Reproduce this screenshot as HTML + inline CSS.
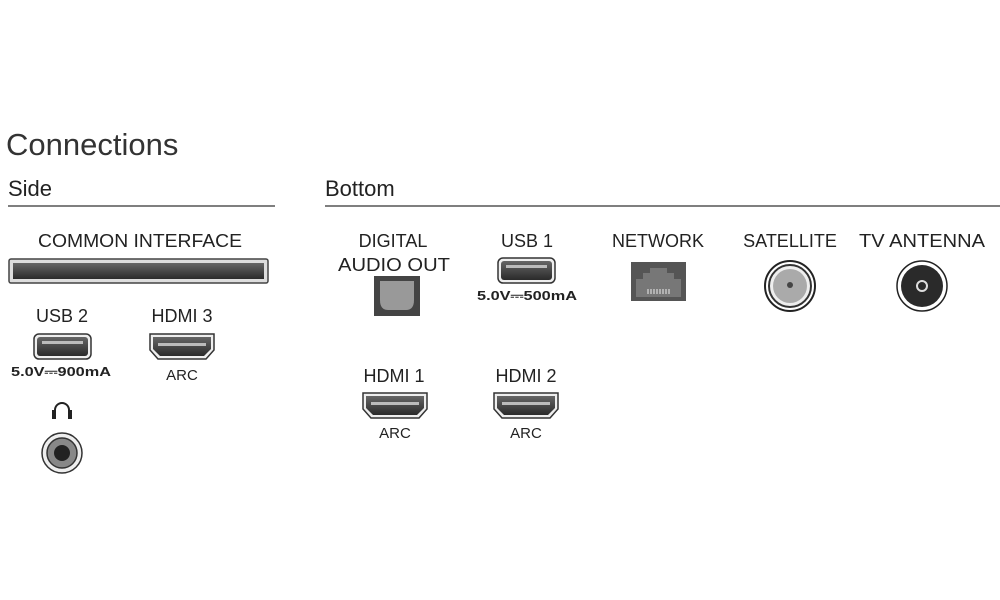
<!DOCTYPE html>
<html><head><meta charset="utf-8"><style>
html,body{margin:0;padding:0;background:#fff;width:1000px;height:600px;overflow:hidden}
text{font-family:"Liberation Sans","DejaVu Sans",sans-serif;fill:#222}
</style></head><body>
<svg width="1000" height="600" viewBox="0 0 1000 600" xmlns="http://www.w3.org/2000/svg">
<defs>
<linearGradient id="g" x1="0" y1="0" x2="0" y2="1"><stop offset="0" stop-color="#666"/><stop offset="1" stop-color="#2a2a2a"/></linearGradient>
<g id="usb"><rect x="0" y="0" width="57" height="25" rx="5" fill="#eee" stroke="#333" stroke-width="1.5"/><rect x="3" y="3" width="51" height="19" rx="3" fill="url(#g)"/><rect x="8" y="7" width="41" height="3" fill="#bbb"/></g>
<g id="hdmi"><path d="M2,2 H66 V18 L58,27 H10 L2,18 Z" fill="#eee" stroke="#333" stroke-width="1.5"/><path d="M5,5 H63 V17 L56,24 H12 L5,17 Z" fill="url(#g)"/><rect x="10" y="11" width="48" height="3" fill="#bbb"/></g>
</defs>
<text x="6" y="155" font-size="31" style="fill:#333">Connections</text>
<text x="8" y="196" font-size="22">Side</text>
<text x="325" y="196" font-size="22">Bottom</text>
<line x1="8" y1="206" x2="275" y2="206" stroke="#555" stroke-width="1.5"/>
<line x1="325" y1="206" x2="1000" y2="206" stroke="#555" stroke-width="1.5"/>

<text x="140" y="247" font-size="18" text-anchor="middle" textLength="204" lengthAdjust="spacingAndGlyphs">COMMON INTERFACE</text>
<rect x="9" y="259" width="259" height="24" rx="2" fill="#ddd" stroke="#444" stroke-width="1.5"/>
<rect x="13" y="263" width="251" height="16" fill="url(#g)"/>
<text x="62" y="322" font-size="18" text-anchor="middle">USB 2</text>
<use href="#usb" x="34" y="334"/>
<text x="61" y="376" font-size="13" font-weight="bold" text-anchor="middle" textLength="100" lengthAdjust="spacingAndGlyphs">5.0V⎓900mA</text>
<text x="182" y="322" font-size="18" text-anchor="middle">HDMI 3</text>
<use href="#hdmi" x="148" y="332"/>
<text x="182" y="380" font-size="15" text-anchor="middle">ARC</text>
<path d="M55,418 V410 A7,7 0 0 1 69,410 V418" fill="none" stroke="#222" stroke-width="2"/>
<rect x="52" y="410" width="4" height="9" fill="#222"/><rect x="68" y="410" width="4" height="9" fill="#222"/>
<circle cx="62" cy="453" r="20" fill="#eee" stroke="#333" stroke-width="1.5"/>
<circle cx="62" cy="453" r="15" fill="#888" stroke="#333" stroke-width="1.5"/>
<circle cx="62" cy="453" r="8" fill="#222"/>

<text x="393" y="247" font-size="18" text-anchor="middle">DIGITAL</text>
<text x="394" y="271" font-size="18" text-anchor="middle" textLength="112" lengthAdjust="spacingAndGlyphs">AUDIO OUT</text>
<rect x="374" y="276" width="46" height="40" fill="#444"/>
<path d="M380,281 H414 V300 Q414,310 406,310 H388 Q380,310 380,300 Z" fill="#999"/>
<text x="527" y="247" font-size="18" text-anchor="middle">USB 1</text>
<use href="#usb" x="498" y="258"/>
<text x="527" y="300" font-size="13" font-weight="bold" text-anchor="middle" textLength="100" lengthAdjust="spacingAndGlyphs">5.0V⎓500mA</text>
<text x="658" y="247" font-size="18" text-anchor="middle">NETWORK</text>
<rect x="631" y="262" width="55" height="39" fill="#555"/>
<path d="M636,297 V279 H643 V273 H650 V268 H667 V273 H674 V279 H681 V297 Z" fill="#777"/>
<path d="M648,289 v5 M651,289 v5 M654,289 v5 M657,289 v5 M660,289 v5 M663,289 v5 M666,289 v5 M669,289 v5" stroke="#eee" stroke-width="1"/>
<text x="790" y="247" font-size="18" text-anchor="middle">SATELLITE</text>
<circle cx="790" cy="286" r="25" fill="#fff" stroke="#222" stroke-width="2"/>
<circle cx="790" cy="286" r="21" fill="#eee" stroke="#333" stroke-width="2"/>
<circle cx="790" cy="286" r="17" fill="#aaa"/>
<circle cx="790" cy="285" r="3" fill="#444"/>
<text x="922" y="247" font-size="18" text-anchor="middle" textLength="126" lengthAdjust="spacingAndGlyphs">TV ANTENNA</text>
<circle cx="922" cy="286" r="25" fill="#fff" stroke="#222" stroke-width="1.5"/>
<circle cx="922" cy="286" r="21" fill="#2a2a2a"/>
<circle cx="922" cy="286" r="5" fill="none" stroke="#ddd" stroke-width="2"/>
<text x="394" y="382" font-size="18" text-anchor="middle">HDMI 1</text>
<use href="#hdmi" x="361" y="391"/>
<text x="395" y="438" font-size="15" text-anchor="middle">ARC</text>
<text x="526" y="382" font-size="18" text-anchor="middle">HDMI 2</text>
<use href="#hdmi" x="492" y="391"/>
<text x="526" y="438" font-size="15" text-anchor="middle">ARC</text>
</svg>
</body></html>
